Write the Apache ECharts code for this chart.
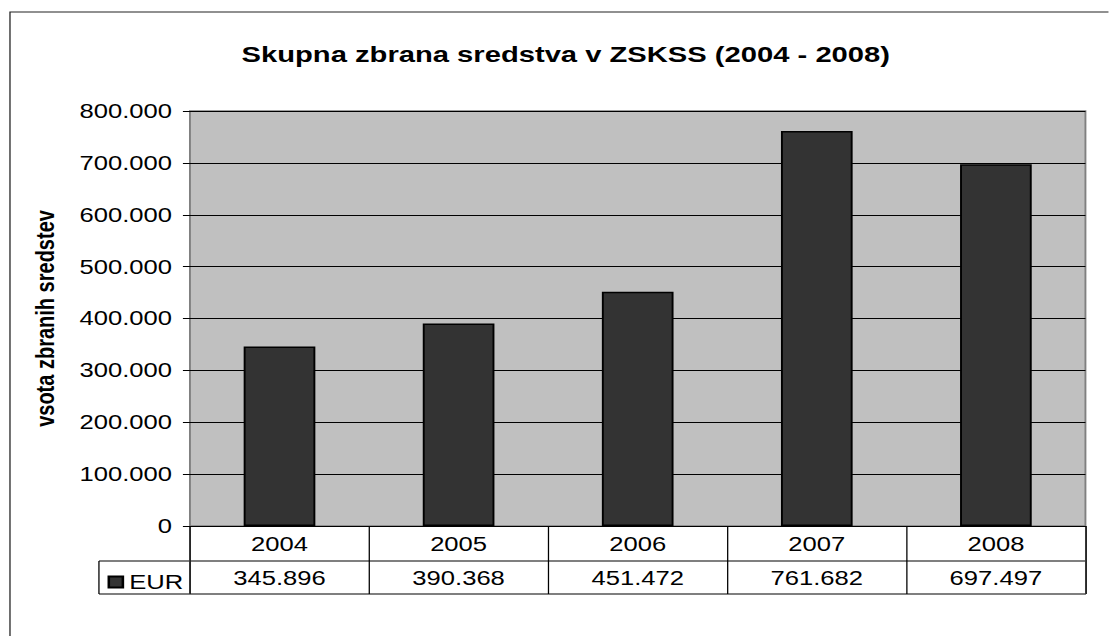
<!DOCTYPE html>
<html>
<head>
<meta charset="utf-8">
<script src="https://cdn.jsdelivr.net/npm/echarts@6/dist/echarts.min.js"></script>
<style>
  html, body { margin: 0; padding: 0; background: #fff; overflow: hidden; }
  /* the reference is stretched horizontally, so draw narrower and stretch */
  #main { width: 866.4px; height: 636px; transform: scaleX(1.28); transform-origin: 0 0; }
</style>
</head>
<body>
<div id="main"></div>
<script>
  const years = ['2004', '2005', '2006', '2007', '2008'];
  const eur = [345896, 390368, 451472, 761682, 697497];
  const yTicks = [0, 100000, 200000, 300000, 400000, 500000, 600000, 700000, 800000];

  const FONT = "'Liberation Sans', Arial, sans-serif";

  function fmt(n) {
    return String(n).replace(/\B(?=(\d{3})+(?!\d))/g, '.');
  }

  var chart = echarts.init(document.getElementById('main'), null, { renderer: 'svg' });

  var option = {
    animation: false,
    backgroundColor: '#fff',
    textStyle: { fontFamily: FONT },
    title: {
      text: 'Skupna zbrana sredstva v ZSKSS (2004 - 2008)',
      left: 437,
      textAlign: 'center',
      top: 38,
      textStyle: { fontFamily: FONT, fontSize: 22.8, fontWeight: 'bold', color: '#000' }
    },
    legend: {
      left: 79,
      top: 567,
      icon: 'rect',
      itemWidth: 11,
      itemHeight: 11,
      textStyle: { fontFamily: FONT, fontSize: 20, color: '#000' },
      data: ['EUR']
    },
    grid: {
      left: 148.4,
      right: 18,
      top: 111,
      bottom: 110,
      show: true,
      backgroundColor: '#C0C0C0',
      borderColor: '#808080',
      borderWidth: 1.5
    },
    xAxis: {
      type: 'category',
      data: years,
      axisLine: { lineStyle: { color: '#000', width: 1 } },
      axisTick: { show: true, interval: 0, length: 68, lineStyle: { color: '#000', width: 1 } },
      axisLabel: {
        interval: 0,
        margin: 1,
        formatter: function (v, i) {
          return '{y|' + v + '}\n{v|' + fmt(eur[i]) + '}';
        },
        rich: {
          y: { fontFamily: FONT, fontSize: 20, lineHeight: 34, color: '#000' },
          v: { fontFamily: FONT, fontSize: 20, lineHeight: 34, color: '#000' }
        }
      }
    },
    yAxis: {
      type: 'value',
      min: yTicks[0],
      max: yTicks[yTicks.length - 1],
      interval: 100000,
      name: 'vsota zbranih sredstev',
      nameLocation: 'middle',
      nameRotate: 90,
      nameGap: 103,
      nameTextStyle: { fontFamily: FONT, fontSize: 20, fontWeight: 'bold', color: '#000' },
      axisLine: { show: false },
      axisTick: { show: true, length: 5.5, lineStyle: { color: '#000' } },
      axisLabel: {
        margin: 14,
        fontFamily: FONT,
        fontSize: 20,
        color: '#000',
        formatter: function (v) { return fmt(v); }
      },
      splitLine: { show: true, lineStyle: { color: '#000', width: 1 } }
    },
    series: [
      {
        name: 'EUR',
        type: 'bar',
        barWidth: 56,
        data: eur,
        itemStyle: { color: '#333333', borderColor: '#000', borderWidth: 1.5 }
      }
    ],
    graphic: [
      // outer chart frame
      { type: 'rect', shape: { x: 7.8, y: 12, width: 1200, height: 800 }, style: { fill: 'none', stroke: '#222', lineWidth: 1 }, silent: true },
      // data table frame
      { type: 'line', shape: { x1: 77.3, y1: 561, x2: 848.4, y2: 561 }, style: { stroke: '#000', lineWidth: 1 } },
      { type: 'line', shape: { x1: 77.3, y1: 594, x2: 848.4, y2: 594 }, style: { stroke: '#000', lineWidth: 1 } },
      { type: 'line', shape: { x1: 77.3, y1: 561, x2: 77.3, y2: 594 }, style: { stroke: '#000', lineWidth: 1 } },
      { type: 'line', shape: { x1: 148.4, y1: 526, x2: 148.4, y2: 594 }, style: { stroke: '#808080', lineWidth: 1.5 } },
      { type: 'line', shape: { x1: 848.4, y1: 526, x2: 848.4, y2: 594 }, style: { stroke: '#808080', lineWidth: 1.5 } }
    ]
  };

  option && chart.setOption(option);
</script>
</body>
</html>
